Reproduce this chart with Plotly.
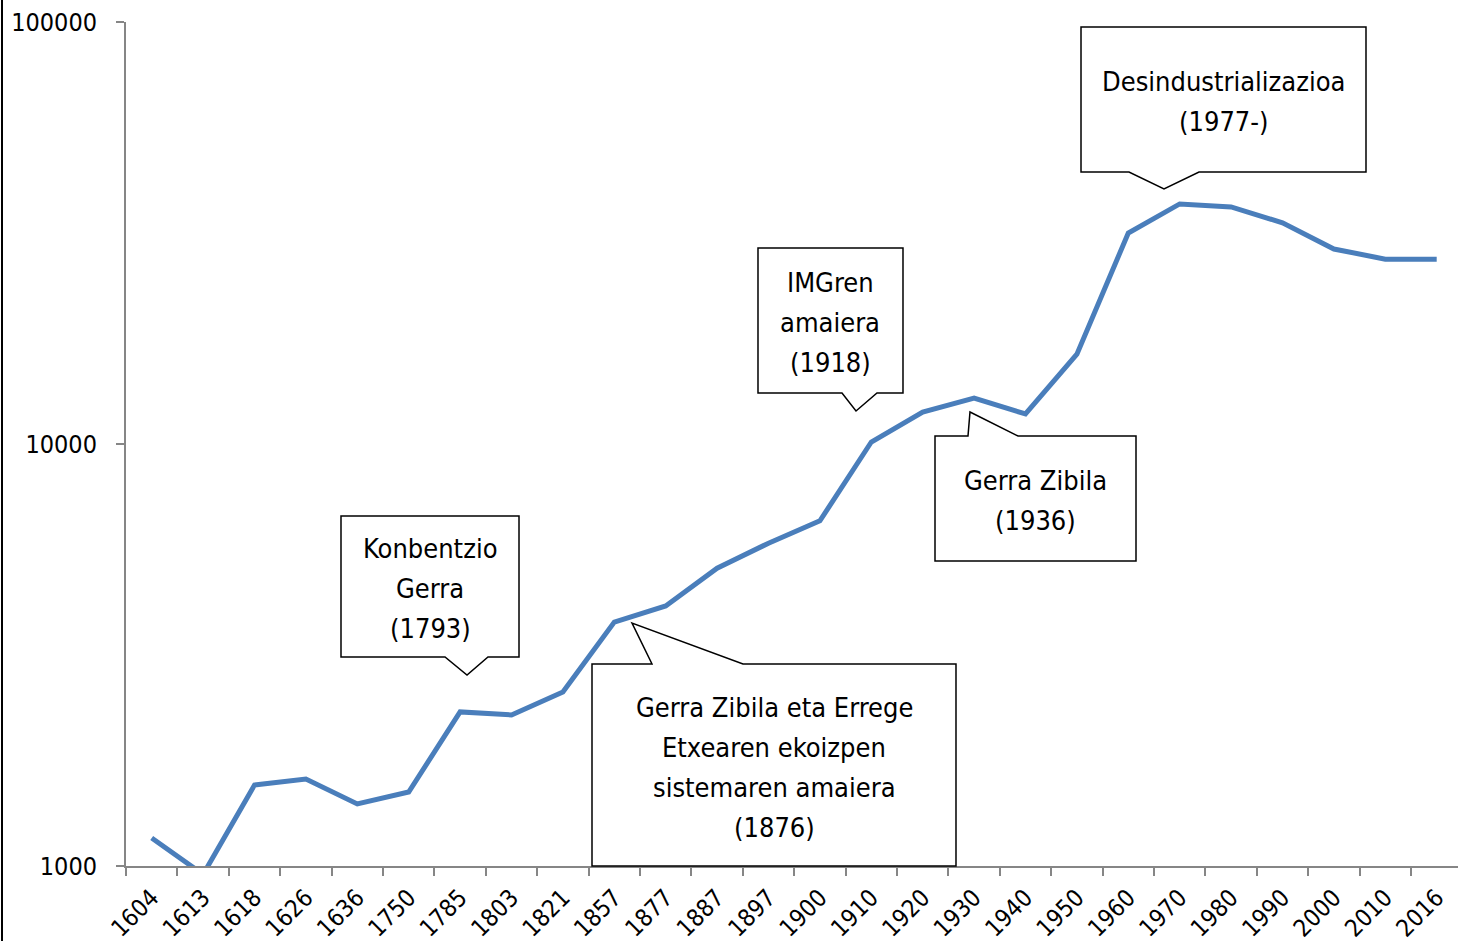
import plotly.graph_objects as go

years = ["1604", "1613", "1618", "1626", "1636", "1750", "1785", "1803", "1821", "1857",
         "1877", "1887", "1897", "1900", "1910", "1920", "1930", "1940", "1950", "1960",
         "1970", "1980", "1990", "2000", "2010", "2016"]
population = [1165, 955, 1556, 1607, 1403, 1497, 2318, 2280, 2584, 3785,
              4132, 5080, 5820, 6575, 10110, 11910, 12850, 11780, 16330, 31620,
              37060, 36460, 33430, 28980, 27420, 27420]
y_ticks = [1000, 10000, 100000]
y_tick_labels = ["1000", "10000", "100000"]

callout_lines = [
    ["Konbentzio", "Gerra", "(1793)"],
    ["Gerra Zibila eta Errege", "Etxearen ekoizpen", "sistemaren amaiera", "(1876)"],
    ["IMGren", "amaiera", "(1918)"],
    ["Gerra Zibila", "(1936)"],
    ["Desindustrializazioa", "(1977-)"],
]

W, H = 1458, 941
ML, MR, MT, MB = 126, 0, 22, 75
PW = W - ML - MR
PH = H - MT - MB
CAT = 51.4

FONT = "Liberation Sans Narrow, Arial Narrow, DejaVu Sans Condensed, Liberation Sans, sans-serif"


def px(x):
    return (x - ML) / PW


def py(y):
    return (H - MB - y) / PH


# (x0, x1, ytop, ybottom, side, base_a, base_b, tip_x, tip_y)
callout_geom = [
    (341, 519, 516, 657, "bottom", 445, 488, 467, 675),
    (592, 956, 664, 866, "top", 652, 743, 632, 623),
    (758, 903, 248, 393, "bottom", 842, 877, 856, 411),
    (935, 1136, 436, 561, "top", 968, 1018, 970, 412),
    (1081, 1366, 27, 172, "bottom", 1129, 1199, 1164, 189),
]
LINE_H = 40

fig = go.Figure()
fig.add_trace(go.Scatter(
    x=years, y=population, mode="lines",
    line=dict(color="#4A7EBB", width=5),
    hoverinfo="skip", showlegend=False,
))

shapes = []
annotations = []
for (x0, x1, yt, yb, side, a, b, tx, ty), lines in zip(callout_geom, callout_lines):
    if side == "bottom":
        pts = [(x0, yt), (x1, yt), (x1, yb), (b, yb), (tx, ty), (a, yb), (x0, yb)]
    else:
        pts = [(x0, yt), (a, yt), (tx, ty), (b, yt), (x1, yt), (x1, yb), (x0, yb)]
    path = "M " + " L ".join(f"{px(x):.5f},{py(y):.5f}" for x, y in pts) + " Z"
    shapes.append(dict(type="path", path=path, xref="paper", yref="paper",
                       fillcolor="white", line=dict(color="black", width=1.5), layer="above"))
    cy = (yt + yb) / 2 + 2
    n = len(lines)
    for i, t in enumerate(lines):
        ly = cy + (i - (n - 1) / 2) * LINE_H
        annotations.append(dict(x=px((x0 + x1) / 2), y=py(ly), xref="paper", yref="paper",
                                text=t, showarrow=False, align="center",
                                xanchor="center", yanchor="middle",
                                font=dict(family=FONT, size=27, color="black")))

# left frame border
shapes.append(dict(type="line", xref="paper", yref="paper",
                   x0=px(2), x1=px(2), y0=py(0), y1=py(H),
                   line=dict(color="black", width=2), layer="above"))

fig.update_layout(
    width=W, height=H,
    margin=dict(l=ML, r=MR, t=MT, b=MB),
    paper_bgcolor="white", plot_bgcolor="white",
    shapes=shapes, annotations=annotations,
    font=dict(family=FONT, color="black"),
    xaxis=dict(
        type="category", range=[-0.5, -0.5 + PW / CAT],
        tickson="boundaries", ticks="outside", ticklen=8, tickwidth=2, tickcolor="#868686",
        showline=True, linecolor="#868686", linewidth=2,
        showgrid=False, zeroline=False, tickangle=-45, ticklabelstandoff=6,
        tickfont=dict(family=FONT, size=24, color="black"),
    ),
    yaxis=dict(
        type="log", range=[3, 5],
        tickvals=y_ticks, ticktext=y_tick_labels,
        ticks="outside", ticklen=8, tickwidth=2, tickcolor="#868686",
        showline=True, linecolor="#868686", linewidth=2,
        showgrid=False, zeroline=False, ticklabelstandoff=14,
        tickfont=dict(family=FONT, size=25, color="black"),
    ),
)

fig.write_html("out.html", config={"displayModeBar": False},
               post_script="document.body.style.margin='0';")
